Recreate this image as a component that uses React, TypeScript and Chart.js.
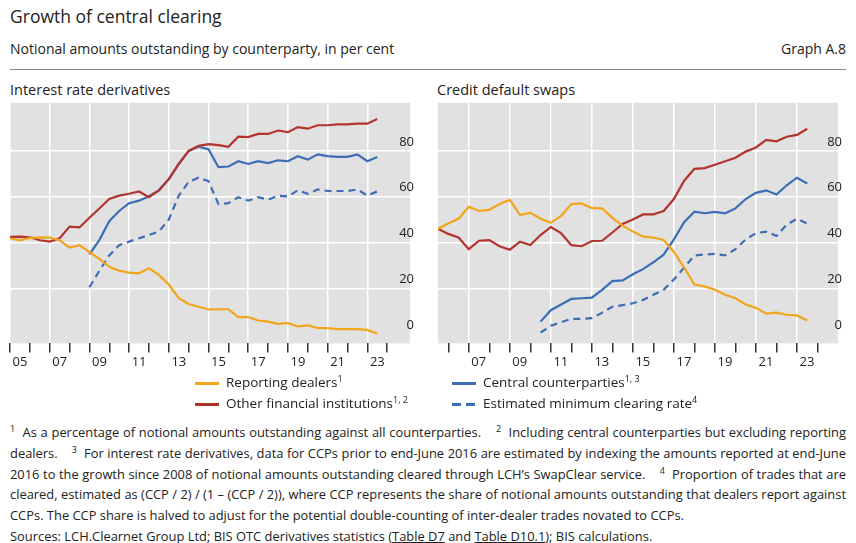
import React, { useEffect, useRef } from "react";
import { Chart, registerables } from "chart.js";
Chart.register(...registerables);

// Interest rate derivatives, semi-annual from 2005.0
const irdStart = 2005;
const irdDealers = [41.9,41,42,42.3,42.2,41,37.8,38.9,35.9,32.9,29.4,27.7,26.9,26.6,28.8,25.9,21.7,15.7,13.2,12,10.8,10.9,10.9,7.5,7.5,6,5.5,4.5,4.9,3.4,3.9,2.7,2.7,2.2,2.2,2.2,1.9,0.3];
const irdOther = [42.5,42.6,42.3,41,40.4,41.9,47,46.6,50.8,54.9,59,60.5,61.3,62.3,59.8,62.8,67.7,74.3,80,82.2,83,82.5,81.8,86.2,86,87.4,87.4,88.9,88.2,90.4,89.7,91.2,91.2,91.6,91.6,91.9,91.9,93.9];
const irdCcpStart = 2009;
const irdCcp = [34.8,41.1,49.3,53.8,57.2,58.3,60.2,62.8,67.7,74.3,80,81.8,80.7,72.9,73.2,75.5,74.3,75.5,74.7,75.9,75.5,77.7,76.2,78.5,77.7,77.4,77.4,78.5,75.5,77.3];
const irdRate = [20.5,27.7,34.4,38.9,40.4,41.9,43.3,44.8,50.1,60.5,66.5,68.3,66.8,56.8,57.2,59.8,58.3,59.8,58.7,60.5,60.1,62.8,61.3,63.2,62.5,62.5,62.5,63.2,60.5,62.3];

// Credit default swaps, semi-annual from 2005.5
const cdsStart = 2005.5;
const cdsDealers = [46,48.3,50.4,55.6,53.8,54.3,56.8,58.6,52,53.1,50.4,48.6,51.6,56.8,57.1,55,54.9,50.8,47.4,44.8,42.6,42.2,41.1,35.9,29.1,21.7,20.9,19.4,17.2,15.7,13,11.5,9,9.4,8.5,8.2,6];
const cdsOther = [46,43.8,42.2,37.1,40.8,41.1,38.4,36.9,40.4,38.9,43.3,46.8,44.1,38.9,38.4,40.7,40.8,44.4,48.1,50.1,52.3,52.3,53.8,59,67,72.2,72.5,74,75.5,77,79.7,81.5,84.8,84.2,86.2,87,89.7];
const cdsCcpStart = 2010.5;
const cdsCcp = [5.5,10.5,13,15.4,15.7,16,19.4,23.2,23.5,26.2,28.4,31.4,34.7,41.4,48.9,53.5,52.8,53.4,52.8,54.9,59,61.7,62.8,61,65,68.3,65.8];
const cdsRate = [0.7,3.7,5.2,6.7,6.7,7,9.4,12,12.7,13.5,15,17.2,19.4,23.9,29.1,34.4,34.8,35.1,34.4,37.1,41.4,44.1,44.8,42.9,47.8,50.4,48.3];

const yTicks = [0, 20, 40, 60, 80];
const YELLOW = "#F2A51A";
const RED = "#B3332E";
const BLUE = "#3D6DB5";
const FONT = "'Open Sans', 'Noto Sans', sans-serif";

const pts = (start: number, vals: number[]) => vals.map((v, i) => ({ x: start + i * 0.5, y: v }));

const bgPlugin = {
  id: "bg",
  beforeDraw(chart: any) {
    const { ctx, chartArea: a } = chart;
    ctx.save();
    ctx.fillStyle = "#E1E1E1";
    ctx.fillRect(a.left, a.top, a.right - a.left, a.bottom - a.top);
    ctx.restore();
  },
};

function ds(data: any[], color: string, dashed = false) {
  return {
    data,
    borderColor: color,
    borderWidth: 2.2,
    borderDash: dashed ? [7, 5] : [],
    pointRadius: 0,
    tension: 0,
    fill: false,
  };
}

function LineChart(props: { xmin: number; xmax: number; years: number[]; sets: any[] }) {
  const ref = useRef<HTMLCanvasElement>(null);
  useEffect(() => {
    const c = new Chart(ref.current!, {
      type: "line",
      data: { datasets: props.sets },
      plugins: [bgPlugin],
      options: {
        animation: false,
        responsive: false,
        maintainAspectRatio: false,
        layout: { padding: { left: 10, right: 10, top: 3, bottom: 0 } },
        plugins: { legend: { display: false }, tooltip: { enabled: false } },
        scales: {
          x: {
            type: "linear",
            min: props.xmin,
            max: props.xmax,
            afterBuildTicks: (ax: any) => { ax.ticks = props.years.map((v) => ({ value: v })); },
            border: { display: false },
            grid: {
              color: (ctx: any) => (ctx.tick && ctx.tick.value % 2 === 1 ? "#FFFFFF" : "rgba(0,0,0,0)"),
              lineWidth: 1.5,
              tickColor: "#333",
              tickLength: 9,
              drawTicks: true,
            },
            ticks: {
              autoSkip: false,
              maxRotation: 0,
              labelOffset: 10,
              padding: 2,
              color: "#222",
              font: { family: FONT, size: 13 },
              callback: (v: any) => (Number(v) % 2 === 1 && Number(v) < 2024 ? String(Number(v) % 100).padStart(2, "0") : ""),
            },
          },
          y: {
            position: "right",
            min: -4,
            max: 101,
            afterBuildTicks: (ax: any) => { ax.ticks = yTicks.map((v) => ({ value: v })); },
            border: { display: false },
            grid: {
              color: (ctx: any) => (ctx.tick && ctx.tick.value === 0 ? "rgba(0,0,0,0)" : "#FFFFFF"),
              lineWidth: 1.5,
              drawTicks: false,
            },
            ticks: {
              mirror: true,
              padding: 4,
              labelOffset: -9,
              color: "#222",
              font: { family: FONT, size: 13 },
            },
          },
        },
      } as any,
    });
    return () => c.destroy();
  }, []);
  return <canvas ref={ref} width={428} height={281} style={{ width: 428, height: 281, display: "block" }} />;
}

const range = (a: number, b: number) => { const r: number[] = []; for (let v = a; v <= b; v++) r.push(v); return r; };

const abs = (x: number, y: number, extra: any = {}) => ({ position: "absolute" as const, left: x, top: y, ...extra });

export default function App() {
  const sup = { fontSize: 9, verticalAlign: "super", lineHeight: 0 } as any;
  return (
    <div style={{ position: "absolute", left: 0, top: 0, width: 856, height: 543, background: "#fff", fontFamily: FONT, color: "#222", overflow: "hidden" }}>
      <div style={abs(10, 4, { fontSize: 17.5 })}>Growth of central clearing</div>
      <div style={abs(10, 39, { fontSize: 14 })}>Notional amounts outstanding by counterparty, in per cent</div>
      <div style={abs(0, 39, { fontSize: 14, width: 846, textAlign: "right" })}>Graph A.8</div>
      <div style={abs(10, 69, { width: 836, height: 1, background: "#8a8a8a" })} />
      <div style={abs(10, 80, { fontSize: 14.5 })}>Interest rate derivatives</div>
      <div style={abs(437, 80, { fontSize: 14.5 })}>Credit default swaps</div>
      <div style={abs(0, 91)}>
        <LineChart xmin={2005} xmax={2025.15} years={range(2005, 2024)} sets={[
          ds(pts(irdStart, irdDealers), YELLOW),
          ds(pts(irdStart, irdOther), RED),
          ds(pts(irdCcpStart, irdCcp), BLUE),
          ds(pts(irdCcpStart, irdRate), BLUE, true),
        ]} />
      </div>
      <div style={abs(428, 91)}>
        <LineChart xmin={2005.5} xmax={2025.0} years={range(2006, 2024)} sets={[
          ds(pts(cdsStart, cdsDealers), YELLOW),
          ds(pts(cdsStart, cdsOther), RED),
          ds(pts(cdsCcpStart, cdsCcp), BLUE),
          ds(pts(cdsCcpStart, cdsRate), BLUE, true),
        ]} />
      </div>
      {/* legend */}
      <div style={abs(195, 382, { width: 24, height: 3, background: YELLOW })} />
      <div style={abs(226, 373, { fontSize: 13.5 })}>Reporting dealers<span style={sup}>1</span></div>
      <div style={abs(195, 403, { width: 24, height: 3, background: RED })} />
      <div style={abs(226, 394, { fontSize: 13.5 })}>Other financial institutions<span style={sup}>1, 2</span></div>
      <div style={abs(452, 382, { width: 24, height: 3, background: BLUE })} />
      <div style={abs(483, 373, { fontSize: 13.5 })}>Central counterparties<span style={sup}>1, 3</span></div>
      <div style={abs(452, 403, { width: 9, height: 3, background: BLUE })} />
      <div style={abs(466, 403, { width: 9, height: 3, background: BLUE })} />
      <div style={abs(483, 394, { fontSize: 13.5 })}>Estimated minimum clearing rate<span style={sup}>4</span></div>
      {/* footnotes */}
      <div style={abs(10, 422, { width: 836, fontSize: 12.9, lineHeight: "20.8px", textAlign: "justify" })}>
        <span style={sup}>1</span>&nbsp; As a percentage of notional amounts outstanding against all counterparties. &nbsp;&nbsp; <span style={sup}>2</span>&nbsp; Including central counterparties but excluding reporting dealers. &nbsp;&nbsp; <span style={sup}>3</span>&nbsp; For interest rate derivatives, data for CCPs prior to end-June 2016 are estimated by indexing the amounts reported at end-June 2016 to the growth since 2008 of notional amounts outstanding cleared through LCH’s SwapClear service. &nbsp;&nbsp; <span style={sup}>4</span>&nbsp; Proportion of trades that are cleared, estimated as (CCP / 2) / (1 – (CCP / 2)), where CCP represents the share of notional amounts outstanding that dealers report against CCPs. The CCP share is halved to adjust for the potential double-counting of inter-dealer trades novated to CCPs.
      </div>
      <div style={abs(10, 527, { fontSize: 12.9 })}>
        Sources: LCH.Clearnet Group Ltd; BIS OTC derivatives statistics (<u>Table D7</u> and <u>Table D10.1</u>); BIS calculations.
      </div>
    </div>
  );
}
